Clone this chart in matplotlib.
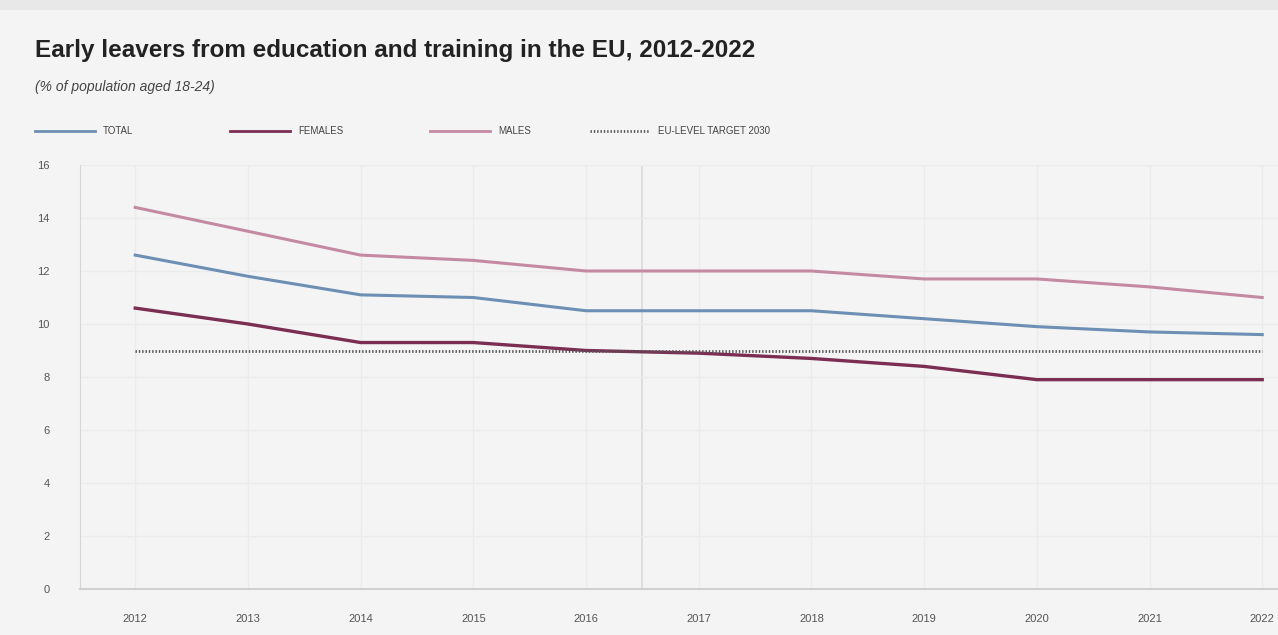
import matplotlib
matplotlib.use("Agg")
import matplotlib.pyplot as plt

plt.rcParams['font.family'] = ['Liberation Sans Narrow', 'Liberation Sans', 'DejaVu Sans']

# Data
years = [2012, 2013, 2014, 2015, 2016, 2017, 2018, 2019, 2020, 2021, 2022]
total = [12.6, 11.8, 11.1, 11.0, 10.5, 10.5, 10.5, 10.2, 9.9, 9.7, 9.6]
females = [10.6, 10.0, 9.3, 9.3, 9.0, 8.9, 8.7, 8.4, 7.9, 7.9, 7.9]
males = [14.4, 13.5, 12.6, 12.4, 12.0, 12.0, 12.0, 11.7, 11.7, 11.4, 11.0]
target = 9.0
yticks = [0, 2, 4, 6, 8, 10, 12, 14, 16]

bg = '#f4f4f4'
c_total = '#6c8fb3'
c_fem = '#7b2d52'
c_male = '#c58aa3'
c_target = '#555555'

fig = plt.figure(figsize=(12.78, 6.35), dpi=100, facecolor=bg)

# top decorative strip
fig.patches.append(plt.Rectangle((0, 0.985), 1, 0.015, transform=fig.transFigure,
                                 facecolor='#e8e8e8', edgecolor='none'))

ax = fig.add_axes([80 / 1278, 1 - 589 / 635, 1198 / 1278, 424 / 635])
ax.set_facecolor(bg)

ax.plot(years, males, color=c_male, lw=2.2, label='MALES')
ax.plot(years, total, color=c_total, lw=2.2, label='TOTAL')
ax.plot(years, females, color=c_fem, lw=2.4, label='FEMALES')
ax.plot([years[0], years[-1]], [target, target], color=c_target, lw=2.0,
        ls=(0, (0.5, 0.7)), label='EU-LEVEL TARGET 2030')

ax.set_xlim(2011.51, 2022.14)
ax.set_ylim(0, 16)
ax.set_yticks(yticks)
ax.set_yticklabels([str(v) for v in yticks], fontsize=8, color='#555555')
ax.set_xticks(years)
ax.set_xticklabels([str(y) for y in years], fontsize=8, color='#555555')
ax.tick_params(axis='y', length=0, pad=22)
ax.tick_params(axis='x', length=0, pad=18)
ax.grid(True, color='#ebebeb', lw=1)
ax.set_axisbelow(True)
for s in ['top', 'right']:
    ax.spines[s].set_visible(False)
ax.spines['left'].set_color('#d6d6d6')
ax.spines['bottom'].set_color('#d0d0d0')
ax.spines['bottom'].set_linewidth(1.5)
ax.axvline(2016.5, color='#dadada', lw=1.2, zorder=0)

fig.text(35 / 1278, 1 - 50 / 635, 'Early leavers from education and training in the EU, 2012-2022',
         fontsize=17.5, fontweight='bold', color='#222222', va='center')
fig.text(35 / 1278, 1 - 87 / 635, '(% of population aged 18-24)',
         fontsize=10, style='italic', color='#444444', va='center')

# legend row
items = [(35, c_total, '-', 'TOTAL'), (230, c_fem, '-', 'FEMALES'),
         (430, c_male, '-', 'MALES'), (590, c_target, ':', 'EU-LEVEL TARGET 2030')]
ly = 1 - 131 / 635
for x0, col, ls, lab in items:
    fig.add_artist(plt.Line2D([x0 / 1278, (x0 + 60) / 1278], [ly, ly], color=col,
                              lw=2.0, ls=ls if ls == '-' else (0, (0.5, 0.7)),
                              transform=fig.transFigure))
    fig.text((x0 + 68) / 1278, ly, lab, fontsize=7, color='#444444', va='center')

fig.savefig('out.png', dpi=100, facecolor=bg)
